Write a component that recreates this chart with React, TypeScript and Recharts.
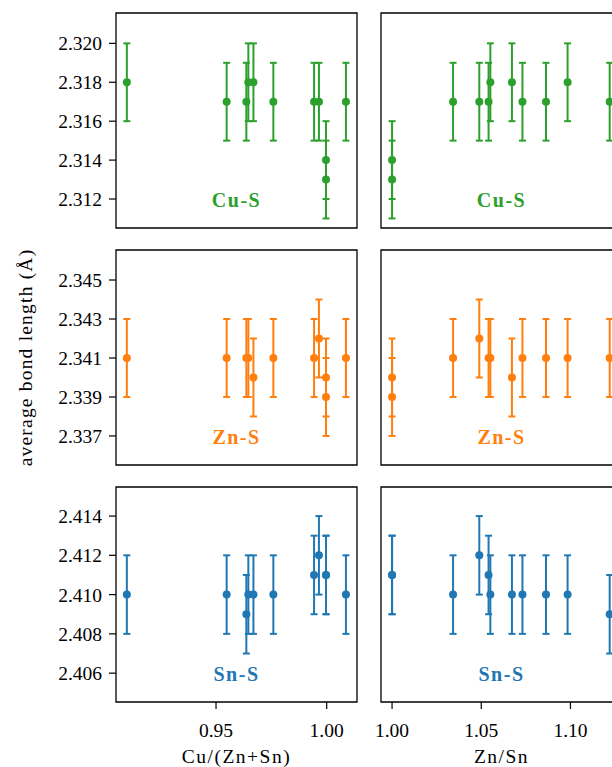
import React from 'react';
import { ScatterChart, Scatter, XAxis, YAxis, ErrorBar, ReferenceArea } from 'recharts';

// Composition ratios of the eleven samples
const cuOverZnSn = [0.9097, 0.9548, 0.9637, 0.9646, 0.9669, 0.9759, 0.9943, 0.9965, 0.9997, 0.9997, 1.0087];
const znOverSn = [1.0984, 1.0342, 1.122, 1.0551, 1.0672, 1.0731, 1.0541, 1.0489, 1.0, 1.0, 1.0863];

// Average bond lengths (Å) per sample
const cuS = [2.318, 2.317, 2.317, 2.318, 2.318, 2.317, 2.317, 2.317, 2.314, 2.313, 2.317];
const znS = [2.341, 2.341, 2.341, 2.341, 2.34, 2.341, 2.341, 2.342, 2.34, 2.339, 2.341];
const snS = [2.41, 2.41, 2.409, 2.41, 2.41, 2.41, 2.411, 2.412, 2.411, 2.411, 2.41];
const bondError = [0.002, 0.002, 0.002, 0.002, 0.002, 0.002, 0.002, 0.002, 0.002, 0.002, 0.002];

// Bond types (rows) and composition ratios (columns)
const bondNames = ['Cu-S', 'Zn-S', 'Sn-S'];
const bondValues = [cuS, znS, snS];
const bondDomains = [
  [2.31051, 2.32156],
  [2.33551, 2.34654],
  [2.40453, 2.41548],
];
const bondTicks = [
  [2.312, 2.314, 2.316, 2.318, 2.32],
  [2.337, 2.339, 2.341, 2.343, 2.345],
  [2.406, 2.408, 2.41, 2.412, 2.414],
];
const ratioNames = ['Cu/(Zn+Sn)', 'Zn/Sn'];
const ratioValues = [cuOverZnSn, znOverSn];
const ratioDomains = [
  [0.9048, 1.0137],
  [0.9938, 1.1289],
];
const ratioTicks = [
  [0.95, 1.0],
  [1.0, 1.05, 1.1],
];
const yAxisTitle = 'average bond length (Å)';

// Styling and layout
const bondColors = ['#2ca02c', '#ff7f0e', '#1f77b4'];
const FONT = '"Liberation Serif", "DejaVu Serif", serif';
const TICK_FONT = 19.5;
const PLOT_W = 241;
const PLOT_H = 215;
const PAD = 4;
const RIGHT_COL_PAD = 30;
const LEFT_AXIS_W = 116;
const BOTTOM_AXIS_H = 66;
const colPlotLeft = [116, 380.7];
const rowPlotTop = [13, 250, 486.5];

type PanelProps = { row: number; col: number };

function Panel({ row, col }: PanelProps) {
  const color = bondColors[row];
  const xs = ratioValues[col];
  const ys = bondValues[row];
  const data = xs.map((x, i) => ({ x, y: ys[i], err: bondError[i] }));
  const xDomain = ratioDomains[col];
  const yDomain = bondDomains[row];
  const isLeft = col === 0;
  const isBottom = row === 2;

  const leftSpace = isLeft ? LEFT_AXIS_W : RIGHT_COL_PAD;
  const width = leftSpace + PLOT_W + PAD;
  const height = PAD + PLOT_H + (isBottom ? BOTTOM_AXIS_H : PAD);
  const left = colPlotLeft[col] - leftSpace;
  const top = rowPlotTop[row] - PAD;

  const tickStyle = { fill: '#000', fontSize: TICK_FONT, fontFamily: FONT };
  const tickLine = { stroke: '#000', strokeWidth: 1.2 };

  return (
    <div style={{ position: 'absolute', left, top, width, height }}>
      <ScatterChart
        width={width}
        height={height}
        margin={{ top: PAD, right: PAD, bottom: isBottom ? 0 : PAD, left: isLeft ? 0 : RIGHT_COL_PAD }}
      >
        <XAxis
          type="number"
          dataKey="x"
          domain={xDomain}
          ticks={ratioTicks[col]}
          tickFormatter={(v: number) => v.toFixed(2)}
          hide={!isBottom}
          height={BOTTOM_AXIS_H}
          axisLine={false}
          tickLine={tickLine}
          tickSize={7}
          tickMargin={14}
          tick={tickStyle}
          interval={0}
          allowDataOverflow
          label={{
            value: ratioNames[col],
            position: 'insideBottom',
            offset: 5,
            fill: '#000',
            fontSize: TICK_FONT,
            fontFamily: FONT,
            letterSpacing: 1.5,
          }}
        />
        <YAxis
          type="number"
          dataKey="y"
          domain={yDomain}
          ticks={bondTicks[row]}
          tickFormatter={(v: number) => v.toFixed(3)}
          hide={!isLeft}
          width={LEFT_AXIS_W}
          axisLine={false}
          tickLine={tickLine}
          tickSize={7}
          tickMargin={7}
          tick={tickStyle}
          interval={0}
          allowDataOverflow
          label={
            isLeft && row === 1
              ? {
                  content: (props: any) => {
                    const vb = props.viewBox || {};
                    const cx = (vb.x ?? 0) + 25;
                    const cy = (vb.y ?? 0) + (vb.height ?? 0) / 2;
                    return (
                      <text
                        x={cx}
                        y={cy}
                        transform={`rotate(-90, ${cx}, ${cy})`}
                        textAnchor="middle"
                        dominantBaseline="central"
                        fill="#000"
                        fontSize={TICK_FONT}
                        fontFamily={FONT}
                        letterSpacing={1.2}
                      >
                        {yAxisTitle}
                      </text>
                    );
                  },
                }
              : undefined
          }
        />
        <ReferenceArea
          x1={xDomain[0]}
          x2={xDomain[1]}
          y1={yDomain[0]}
          y2={yDomain[1]}
          fill="none"
          fillOpacity={0}
          stroke="#000"
          strokeWidth={1.3}
          ifOverflow="visible"
          label={{
            value: bondNames[row],
            position: 'insideBottom',
            offset: 21,
            fill: color,
            fontSize: 20,
            fontWeight: 700,
            fontFamily: FONT,
            letterSpacing: 1.5,
          }}
        />
        <Scatter
          data={data}
          isAnimationActive={false}
          shape={(p: any) => <circle cx={p.cx} cy={p.cy} r={4} fill={color} />}
        >
          <ErrorBar dataKey="err" direction="y" width={3.5} strokeWidth={2} stroke={color} />
        </Scatter>
      </ScatterChart>
    </div>
  );
}

export default function App() {
  const cells: React.ReactNode[] = [];
  for (let r = 0; r < 3; r++) {
    for (let c = 0; c < 2; c++) {
      cells.push(<Panel key={`${r}-${c}`} row={r} col={c} />);
    }
  }
  return (
    <div
      style={{
        position: 'absolute',
        left: 0,
        top: 0,
        width: 612,
        height: 767,
        overflow: 'hidden',
        background: '#fff',
      }}
    >
      {cells}
    </div>
  );
}
